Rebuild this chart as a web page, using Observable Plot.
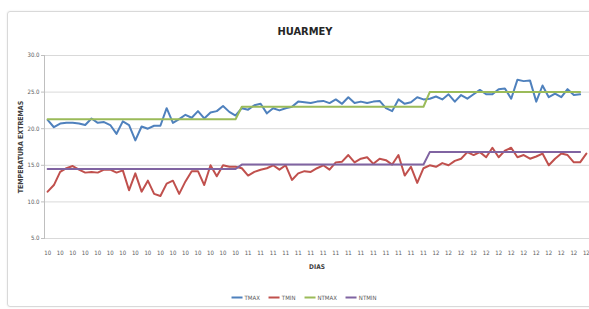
<!DOCTYPE html>
<html><head><meta charset="utf-8">
<script src="https://cdn.jsdelivr.net/npm/d3@7"></script>
<script src="https://cdn.jsdelivr.net/npm/@observablehq/plot@0.6"></script>
<style>
html,body{margin:0;padding:0;background:#fff;overflow:hidden}
#chart{position:relative;width:589px;height:309px;overflow:hidden;font-family:"Liberation Sans Narrow","DejaVu Sans Condensed",sans-serif}
#frame{position:absolute;left:7px;top:11px;width:640px;height:294px;border:1px solid #d9d9d9;border-radius:3px;box-shadow:0 0 2px #e6e6e6}
#plot{position:absolute;left:0;top:0}
.t{position:absolute;white-space:nowrap;color:#404040}
#title{left:305px;top:31px;transform:translate(-50%,-50%);font-weight:bold;font-size:11px;color:#262626}
#ylab{left:21px;top:147px;transform:translate(-50%,-50%) rotate(-90deg);font-weight:bold;font-size:7px}
#xlab{left:317px;top:267px;transform:translate(-50%,-50%);font-weight:bold;font-size:6.5px}
#legend{left:304px;top:297px;transform:translate(-50%,-50%);display:flex;gap:9px;font-size:6px;color:#595959}
#legend span.item{display:flex;align-items:center;gap:2px}
#legend span.sw{display:inline-block;width:11px;height:2px}
</style>
</head><body>
<div id="chart">
  <div id="frame"></div>
  <div id="plot"></div>
  <div class="t" id="title"></div>
  <div class="t" id="ylab"></div>
  <div class="t" id="xlab"></div>
  <div class="t" id="legend"></div>
</div>
<script>
// ---- data ----
const titulo = "HUARMEY";
const etiquetaY = "TEMPERATURA  EXTREMAS";
const etiquetaX = "DIAS";
const meses = ["10", "11", "12"];
const diasPorMes = [31, 30, 26];
const yTicks = [5, 10, 15, 20, 25, 30];
const series = ["TMAX", "TMIN", "NTMAX", "NTMIN"];
const colores = ["#4F81BD", "#C0504D", "#9BBB59", "#8064A2"];

const tmax = [21.2, 20.2, 20.7, 20.8, 20.8, 20.7, 20.5, 21.4, 20.8, 20.9,
  20.5, 19.3, 21.0, 20.5, 18.4, 20.3, 20.0, 20.4, 20.4, 22.8,
  20.8, 21.3, 21.9, 21.5, 22.4, 21.4, 22.2, 22.4, 23.1, 22.3,
  21.8, 22.8, 22.6, 23.2, 23.4, 22.1, 22.8, 22.5, 22.8, 23.0,
  23.7, 23.6, 23.5, 23.7, 23.8, 23.5, 24.0, 23.4, 24.3, 23.5,
  23.7, 23.5, 23.7, 23.8, 22.8, 22.4, 24.0, 23.4, 23.6, 24.3,
  24.0, 24.1, 24.4, 24.0, 24.7, 23.7, 24.6, 24.1, 24.7, 25.3,
  24.7, 24.7, 25.4, 25.5, 24.1, 26.7, 26.5, 26.6, 23.7, 25.9,
  24.3, 24.8, 24.3, 25.4, 24.6, 24.7];
const tmin = [11.4, 12.3, 14.1, 14.6, 14.9, 14.4, 14.0, 14.1, 14.0, 14.4,
  14.4, 14.0, 14.3, 11.6, 13.9, 11.4, 12.9, 11.1, 10.8, 12.5,
  12.9, 11.1, 12.8, 14.2, 14.2, 12.3, 15.0, 13.5, 15.0, 14.8,
  14.8, 14.6, 13.6, 14.1, 14.4, 14.6, 15.0, 14.4, 15.0, 13.0,
  13.9, 14.2, 14.1, 14.6, 15.0, 14.4, 15.4, 15.5, 16.4, 15.4,
  15.9, 16.1, 15.2, 15.9, 15.7, 15.1, 16.4, 13.6, 14.8, 12.6,
  14.6, 15.0, 14.8, 15.3, 15.0, 15.6, 15.9, 16.8, 16.4, 16.8,
  16.1, 17.4, 16.1, 17.0, 17.4, 16.1, 16.4, 15.9, 16.2, 16.6,
  15.0, 15.9, 16.6, 16.4, 15.4, 15.4, 16.6];
const ntmaxMes = [21.3, 23.0, 25.0];
const ntminMes = [14.5, 15.1, 16.8];

// ---- build tables ----
const dias = [];
meses.forEach((m, k) => { for (let d = 1; d <= diasPorMes[k]; d++) dias.push({mes: m, k, dia: d}); });
const nDias = dias.length;
const tickIdx = dias.map((d, i) => i).filter(i => i % 2 === 0);
const rows = [];
tmax.forEach((v, i) => rows.push({serie: "TMAX", i, v}));
tmin.forEach((v, i) => rows.push({serie: "TMIN", i, v}));
tmax.forEach((_, i) => rows.push({serie: "NTMAX", i, v: ntmaxMes[dias[i].k]}));
tmax.forEach((_, i) => rows.push({serie: "NTMIN", i, v: ntminMes[dias[i].k]}));

const font = '"Liberation Sans Narrow","DejaVu Sans Condensed",sans-serif';
const plot = Plot.plot({
  width: 589, height: 309,
  marginLeft: 44, marginRight: 0, marginTop: 55, marginBottom: 71,
  x: {domain: [-0.5, nDias - 0.5]},
  y: {domain: [5, 30]},
  color: {domain: series, range: colores},
  style: {fontFamily: font, fontSize: "6px", background: "transparent"},
  marks: [
    Plot.gridY(yTicks, {stroke: "#d9d9d9", strokeOpacity: 1}),
    Plot.frame({anchor: "left", stroke: "#bfbfbf"}),
    Plot.axisY(yTicks, {tickFormat: d => d.toFixed(1), tickSize: 3, tickPadding: 2, label: null, stroke: "#bfbfbf", fill: "#595959"}),
    Plot.axisX(tickIdx, {tickFormat: i => dias[i].mes, tickSize: 0, tickPadding: 12, label: null, fill: "#595959"}),
    ...series.map(s => Plot.line(rows.filter(r => r.serie === s), {
      x: "i", y: "v", stroke: "serie", strokeWidth: 2, strokeLinejoin: "round"
    }))
  ]
});
document.getElementById("plot").appendChild(plot);
document.getElementById("title").textContent = titulo;
document.getElementById("ylab").textContent = etiquetaY;
document.getElementById("xlab").textContent = etiquetaX;
const leg = document.getElementById("legend");
series.forEach((s, k) => {
  const it = document.createElement("span"); it.className = "item";
  const sw = document.createElement("span"); sw.className = "sw"; sw.style.background = colores[k];
  const lb = document.createElement("span"); lb.textContent = s;
  it.appendChild(sw); it.appendChild(lb); leg.appendChild(it);
});
</script>
</body></html>
